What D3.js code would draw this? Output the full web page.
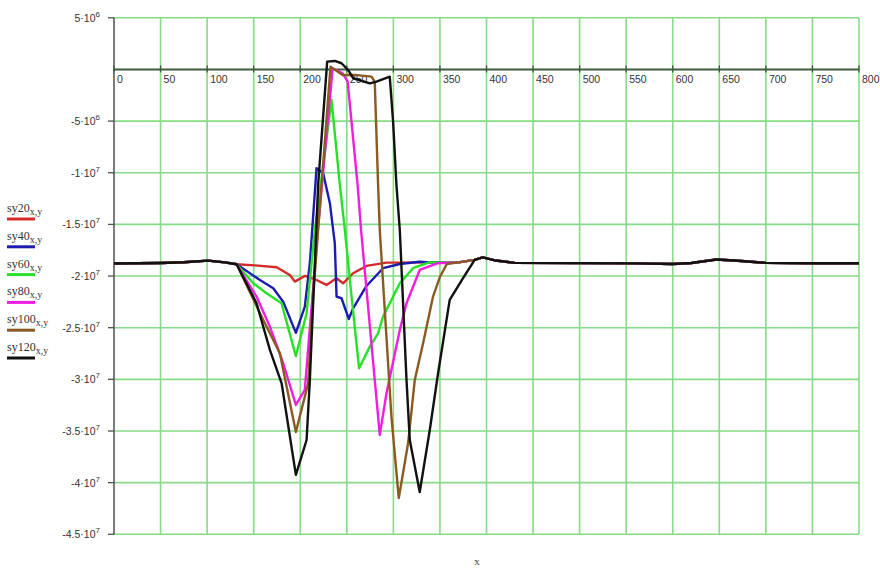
<!DOCTYPE html>
<html>
<head>
<meta charset="utf-8">
<script src="https://cdn.jsdelivr.net/npm/d3@7"></script>
<style>
  body { margin: 0; background: #fff; }
  svg { display: block; }
</style>
</head>
<body>
<div id="chart"></div>
<script>
// x ticks along the zero line, y ticks down the left side
var xTicks = [0, 50, 100, 150, 200, 250, 300, 350, 400, 450, 500, 550, 600, 650, 700, 750, 800];
var yTicks = [5e6, -5e6, -1e7, -1.5e7, -2e7, -2.5e7, -3e7, -3.5e7, -4e7, -4.5e7];
var yTickText = [["5", "6"], ["-5", "6"], ["-1", "7"], ["-1.5", "7"], ["-2", "7"], ["-2.5", "7"],
                 ["-3", "7"], ["-3.5", "7"], ["-4", "7"], ["-4.5", "7"]];

// common path shared by every curve outside its disturbed zone
var baseline = [[0, -1.878e7], [25, -1.876e7], [50, -1.873e7], [75, -1.866e7], [101, -1.851e7],
                [119, -1.868e7], [131.7, -1.886e7],
                [300, -1.870e7], [340, -1.868e7], [370, -1.868e7], [387, -1.844e7], [396, -1.820e7],
                [410, -1.850e7], [430, -1.872e7], [500, -1.875e7], [560, -1.877e7], [600, -1.884e7],
                [620, -1.874e7], [647, -1.840e7], [670, -1.852e7], [700, -1.872e7], [750, -1.876e7],
                [800, -1.876e7]];

var sy20 = [[151.3, -1.897e7], [174.6, -1.915e7], [188.8, -1.990e7], [194.2, -2.054e7], [204.9, -1.999e7],
            [217.5, -2.038e7], [228.2, -2.086e7], [238.9, -2.021e7], [246.0, -2.070e7], [256.8, -1.973e7],
            [271.1, -1.902e7], [292.6, -1.870e7]];
var sy40 = [[156.7, -2.038e7], [171, -2.118e7], [181.7, -2.248e7], [195.3, -2.55e7], [204.9, -2.296e7],
            [210.3, -1.876e7], [217.5, -0.956e7], [224.6, -1.005e7], [231.8, -1.295e7], [237.1, -1.682e7],
            [239, -2.199e7], [244.3, -2.215e7], [252.1, -2.415e7], [256.8, -2.312e7], [271.1, -2.096e7],
            [288.9, -1.924e7], [306.9, -1.883e7], [328.3, -1.861e7]];
var sy60 = [[149.5, -2.070e7], [163.8, -2.167e7], [179.9, -2.263e7], [195.3, -2.775e7], [206.8, -2.360e7],
            [215.7, -1.554e7], [233.6, -0.295e7], [242.5, -1.118e7], [247.9, -1.554e7], [255.1, -2.199e7],
            [263.2, -2.893e7], [274.7, -2.683e7], [283.6, -2.554e7], [288.9, -2.393e7], [306.9, -2.070e7],
            [321.1, -1.924e7], [339.1, -1.866e7]];
var sy80 = [[153.1, -2.199e7], [167.4, -2.490e7], [181.7, -2.844e7], [195.3, -3.248e7], [204.9, -3.103e7],
            [218.9, -1.554e7], [234.8, 0.012e7], [245.5, -0.037e7], [250.9, -0.118e7], [261.6, -1.118e7],
            [265.3, -1.554e7], [285.4, -3.538e7], [292.6, -3.135e7], [306.9, -2.522e7], [314.1, -2.263e7],
            [328.3, -1.941e7], [348, -1.876e7]];
var sy100 = [[156.7, -2.360e7], [178.1, -2.747e7], [195.3, -3.509e7], [208.5, -3.038e7], [213.8, -2.199e7],
             [232.5, 0.027e7], [245.5, -0.053e7], [258.6, -0.053e7], [276.5, -0.070e7], [280, -0.118e7],
             [283.6, -1.118e7], [285.4, -1.554e7], [297.9, -3.361e7], [305.8, -4.150e7], [315.8, -3.619e7],
             [323, -3.006e7], [331.9, -2.651e7], [342.6, -2.199e7], [349.8, -2.012e7], [357.3, -1.885e7]];
var sy120 = [[153.1, -2.263e7], [167.4, -2.715e7], [180, -3.038e7], [195.3, -3.925e7], [206.8, -3.587e7],
             [210.3, -3.006e7], [215.7, -1.876e7], [219.2, -1.118e7], [228.9, 0.076e7], [237.1, 0.082e7],
             [244.3, 0.060e7], [251.4, -0.005e7], [256.8, -0.085e7], [274.7, -0.134e7], [281.9, -0.118e7],
             [296.1, -0.070e7], [299.7, -0.505e7], [303.3, -1.118e7], [306.9, -1.554e7], [314.1, -3.006e7],
             [317.6, -3.587e7], [328.3, -4.090e7], [339.1, -3.490e7], [348, -2.941e7], [360.5, -2.231e7],
             [374.8, -2.021e7], [387.3, -1.844e7]];

var seriesNames = ["sy20", "sy40", "sy60", "sy80", "sy100", "sy120"];
var seriesData = [sy20, sy40, sy60, sy80, sy100, sy120];
var seriesColors = ["#d42a2a", "#1c1cb0", "#28e028", "#f01ee0", "#8a5a22", "#111111"];

var width = 880, height = 571;
var svg = d3.select("#chart").append("svg").attr("width", width).attr("height", height);

var x = d3.scaleLinear().domain([0, 800]).range([114, 859]);
var y = d3.scaleLinear().domain([-4.5e7, 5e6]).range([534.3, 17.8]);

// green grid
var grid = svg.append("g");
grid.selectAll(".vg").data(xTicks.slice(1)).enter().append("line")
    .attr("x1", (d) => x(d)).attr("x2", (d) => x(d))
    .attr("y1", y(5e6)).attr("y2", y(-4.5e7))
    .attr("stroke", "#86dc86").attr("stroke-width", 1.6);
grid.selectAll(".hg").data(yTicks).enter().append("line")
    .attr("x1", x(0)).attr("x2", x(800))
    .attr("y1", (d) => y(d)).attr("y2", (d) => y(d))
    .attr("stroke", "#86dc86").attr("stroke-width", 1.6);

// y axis
svg.append("line").attr("x1", x(0)).attr("x2", x(0)).attr("y1", y(5e6)).attr("y2", y(-4.5e7))
    .attr("stroke", "#505050").attr("stroke-width", 1.5);
svg.selectAll(".ytick").data(yTicks).enter().append("line")
    .attr("x1", x(0) - 6).attr("x2", x(0))
    .attr("y1", (d) => y(d)).attr("y2", (d) => y(d))
    .attr("stroke", "#505050").attr("stroke-width", 1.3);
var ylab = svg.selectAll(".ylab").data(yTicks).enter().append("text")
    .attr("x", 100).attr("y", (d) => y(d) + 4)
    .attr("text-anchor", "end")
    .attr("font-family", "Liberation Sans, Arial, sans-serif")
    .attr("font-size", 10.5).attr("fill", "#333");
ylab.append("tspan").text((d, i) => yTickText[i][0] + "\u00b710");
ylab.append("tspan").attr("dy", -5).attr("font-size", 8).text((d, i) => yTickText[i][1]);

// x axis on the zero line
svg.append("line").attr("x1", x(0)).attr("x2", x(800)).attr("y1", y(0)).attr("y2", y(0))
    .attr("stroke", "#3d5a3d").attr("stroke-width", 2);
svg.selectAll(".xtick").data(xTicks).enter().append("line")
    .attr("x1", (d) => x(d)).attr("x2", (d) => x(d))
    .attr("y1", y(0) - 4).attr("y2", y(0) + 3)
    .attr("stroke", "#3d5a3d").attr("stroke-width", 1.3);
svg.selectAll(".xlab").data(xTicks).enter().append("text")
    .attr("x", (d) => x(d) + 3).attr("y", y(0) + 14)
    .attr("font-family", "Liberation Sans, Arial, sans-serif")
    .attr("font-size", 10.5).attr("fill", "#333")
    .text((d) => String(d));

// curves
var line = d3.line().x((d) => x(d[0])).y((d) => y(d[1]));
seriesData.forEach(function(pts, i) {
    var first = pts[0][0], last = pts[pts.length - 1][0];
    var full = baseline.filter((d) => d[0] <= 131.7)
        .concat(pts)
        .concat(baseline.filter((d) => d[0] > last));
    svg.append("path").datum(full)
        .attr("d", line)
        .attr("fill", "none")
        .attr("stroke", seriesColors[i])
        .attr("stroke-width", 2.4)
        .attr("stroke-linejoin", "round");
});

// legend
var leg = svg.selectAll(".leg").data(seriesNames).enter().append("g")
    .attr("transform", (d, i) => "translate(7," + (212 + i * 27.8) + ")");
var legText = leg.append("text").attr("x", 0).attr("y", 0)
    .attr("font-family", "Liberation Serif, Times New Roman, serif")
    .attr("font-size", 12).attr("fill", "#333");
legText.append("tspan").text((d) => d);
legText.append("tspan").attr("dy", 3).attr("font-size", 10).text("x,y");
leg.append("line").attr("x1", 0).attr("x2", 28).attr("y1", 7).attr("y2", 7)
    .attr("stroke", (d, i) => seriesColors[i]).attr("stroke-width", 3);

// x label
svg.append("text").attr("x", 477).attr("y", 565).attr("text-anchor", "middle")
    .attr("font-family", "Liberation Serif, Times New Roman, serif")
    .attr("font-size", 11).attr("fill", "#444").text("x");
</script>
</body>
</html>
